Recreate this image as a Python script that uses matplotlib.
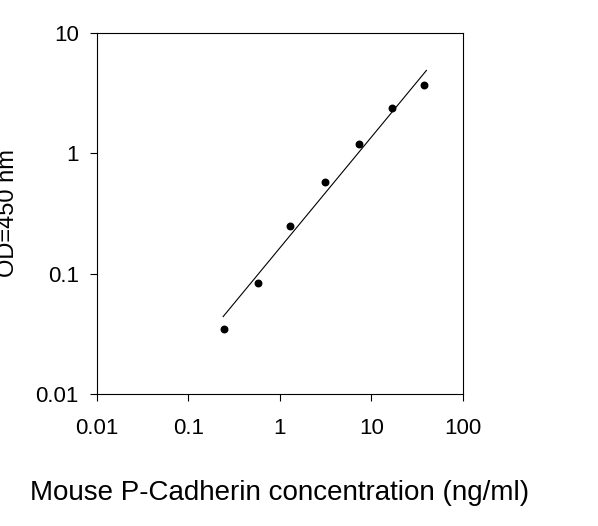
import matplotlib
matplotlib.use("Agg")
import matplotlib.pyplot as plt
import numpy as np

conc = [0.247, 0.58, 1.3, 3.1, 7.3, 17, 38]
od = [0.035, 0.083, 0.25, 0.58, 1.19, 2.37, 3.69]
fit_x = [0.24, 40]
fit_y = [0.044, 4.9]

plt.rcParams['font.family'] = ['Liberation Sans', 'DejaVu Sans']
fig = plt.figure(figsize=(5.98, 5.26), dpi=100)
ax = fig.add_axes([0.162, 0.251, 0.612, 0.686])
ax.plot(fit_x, fit_y, color='black', lw=0.8)
ax.scatter(conc, od, color='black', s=22, zorder=3)
ax.set_xscale('log'); ax.set_yscale('log')
ax.set_xlim(0.01, 100); ax.set_ylim(0.01, 10)
ax.set_xticks([0.01, 0.1, 1, 10, 100]); ax.set_xticklabels(['0.01', '0.1', '1', '10', '100'])
ax.set_yticks([0.01, 0.1, 1, 10]); ax.set_yticklabels(['0.01', '0.1', '1', '10'])
ax.minorticks_off()
ax.tick_params(direction='out', labelsize=16, length=5)
ax.tick_params(axis='x', pad=12)
ax.tick_params(axis='y', pad=8)
ax.set_ylabel('OD=450 nm', fontsize=17, labelpad=12)
ax.set_xlabel('Mouse P-Cadherin concentration (ng/ml)', fontsize=20, labelpad=30)
fig.savefig('out.png', dpi=100)
